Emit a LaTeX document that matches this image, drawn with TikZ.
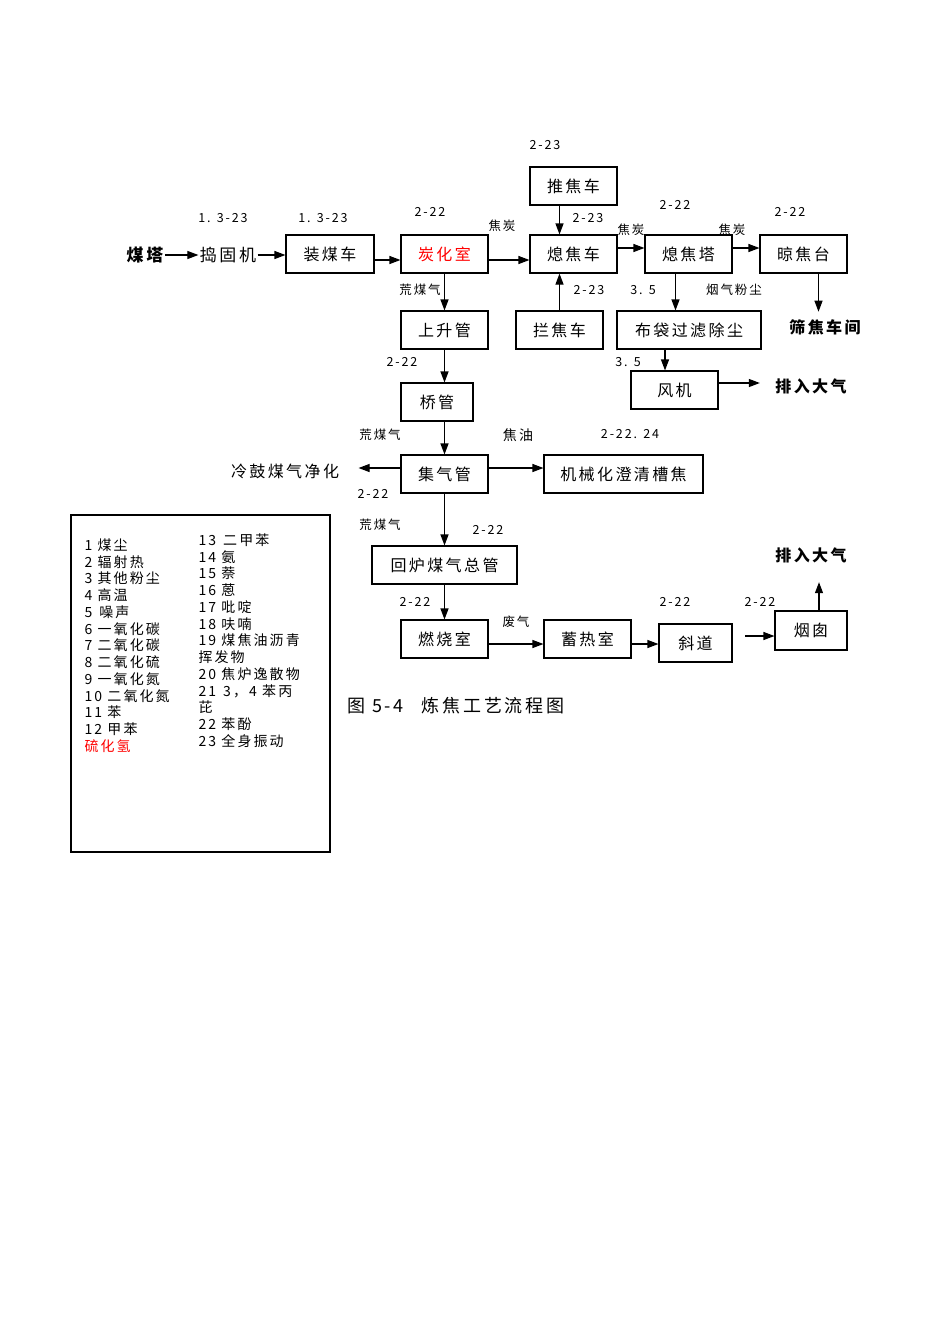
\documentclass[tikz,border=0pt]{standalone}
\usepackage{fontspec}
\setmainfont[LetterSpace=15]{Noto Sans CJK SC}
\usetikzlibrary{arrows.meta}

\begin{document}
\begin{tikzpicture}[x=1pt, y=-1pt, >={Triangle[length=11pt,width=8pt]}, line width=1.1pt,
	box/.style={draw, minimum height=38pt, inner sep=0pt, font=\fontsize{16}{18}\selectfont},
	txt/.style={inner sep=1pt, font=\fontsize{16}{18}\selectfont},
	bold/.style={inner sep=1pt, font=\bfseries\fontsize{16}{18}\selectfont},
	lbl/.style={inner sep=0pt, font=\fontsize{12.5}{14}\selectfont},
	legcol/.style={anchor=north west, inner sep=0pt, align=left, font=\fontsize{14}{16.75}\selectfont}]
	\useasboundingbox (0,0) rectangle (950,1344);
	% top row
	\node[bold, font=\bfseries\fontsize{17}{19}\selectfont] (mt) at (145,255) {煤塔};
	\node[txt, font=\fontsize{17}{19}\selectfont] (dg) at (228,255) {捣固机};
	\node[box, minimum width=88pt] (zmc) at (330,254) {装煤车};
	\node[box, minimum width=87pt, text=red] (thsh) at (444.5,254) {炭化室};
	\node[box, minimum width=87pt] (tjc) at (573.5,186) {推焦车};
	\node[box, minimum width=87pt] (xjc) at (573.5,254) {熄焦车};
	\node[box, minimum width=87pt] (ljc) at (559.5,330) {拦焦车};
	\node[box, minimum width=87pt] (xjt) at (688.5,254) {熄焦塔};
	\node[box, minimum width=87pt] (ljt) at (803.5,254) {晾焦台};
	\node[bold] (sjcj) at (825,327) {筛焦车间};
	% dust branch
	\node[box, minimum width=144pt] (bdcc) at (689,330) {布袋过滤除尘};
	\node[box, minimum width=87pt] (fj) at (674.5,390) {风机};
	\node[bold] (pq1) at (811,386) {排入大气};
	% gas line
	\node[box, minimum width=87pt] (ssg) at (444.5,330) {上升管};
	\node[box, minimum width=72pt] (qg) at (437,402) {桥管};
	\node[box, minimum width=87pt] (jqg) at (444.5,474) {集气管};
	\node[txt] (lgjh) at (285,471) {冷鼓煤气净化};
	\node[box, minimum width=159pt] (jxh) at (623.5,474) {机械化澄清槽焦};
	\node[box, minimum width=145pt] (hlzg) at (444.5,565) {回炉煤气总管};
	% bottom row
	\node[box, minimum width=87pt] (rsh) at (444.5,639) {燃烧室};
	\node[box, minimum width=87pt] (xrs) at (587.5,639) {蓄热室};
	\node[box, minimum width=73pt] (xd) at (695.5,643) {斜道};
	\node[box, minimum width=72pt, minimum height=39pt] (yc) at (811,630.5) {烟囱};
	\node[bold] (pq2) at (811,555) {排入大气};
	\coordinate (ycin) at (745,636);

	% connectors
	\draw[->] (mt) -- (dg);
	\draw[->] (dg.east) -- (dg.east -| zmc.west);
	\draw[->] ([yshift=-6pt]zmc.east) -- ([yshift=-6pt]thsh.west);
	\draw[->] ([yshift=-6pt]thsh.east) -- ([yshift=-6pt]xjc.west);
	\draw[->] ([xshift=-14pt]tjc.south) -- ([xshift=-14pt]xjc.north);
	\draw[->] (ljc.north) -- (ljc.north |- xjc.south);
	\draw[->] ([yshift=6pt]xjc.east) -- ([yshift=6pt]xjt.west);
	\draw[->] ([yshift=6pt]xjt.east) -- ([yshift=6pt]ljt.west);
	\draw[->] ([xshift=15pt]ljt.south) -- ([xshift=15pt,yshift=6pt]ljt.south |- sjcj.north);
	\draw[->] ([xshift=-13pt]xjt.south) -- ([xshift=-13pt]xjt.south |- bdcc.north);
	\draw[->] ([xshift=-24pt]bdcc.south) -- ([xshift=-24pt]bdcc.south |- fj.north);
	\draw[->, shorten >=14pt] ([yshift=7pt]fj.east) -- ([yshift=7pt]fj.east -| pq1.west);
	\draw[->] (thsh.south) -- (ssg.north);
	\draw[->] (ssg.south) -- (ssg.south |- qg.north);
	\draw[->] (ssg.south |- qg.south) -- (jqg.north);
	\draw[->, shorten >=18pt] ([yshift=6pt]jqg.west) -- ([yshift=6pt]jqg.west -| lgjh.east);
	\draw[->] ([yshift=6pt]jqg.east) -- ([yshift=6pt]jqg.east -| jxh.west);
	\draw[->] (jqg.south) -- (hlzg.north);
	\draw[->] (hlzg.south) -- (rsh.north);
	\draw[->] ([yshift=-5pt]rsh.east) -- ([yshift=-5pt]xrs.west);
	\draw[->] ([yshift=-5pt]xrs.east) -- ([yshift=-5pt]xrs.east -| xd.west);
	\draw[->] (ycin) -- (ycin -| yc.west);
	\draw[->, shorten >=18pt] ([xshift=8pt]yc.north) -- ([xshift=8pt]yc.north |- pq2.south);

	% labels
	\node[lbl] (l1) at (223,218) {1. 3-23};
	\node[lbl] (l2) at (323,218) {1. 3-23};
	\node[lbl] (l3) at (430,212) {2-22};
	\node[lbl] (l4) at (502,226) {焦炭};
	\node[lbl] (l5) at (545,145) {2-23};
	\node[lbl] (l6) at (588,218) {2-23};
	\node[lbl] (l7) at (589,290) {2-23};
	\node[lbl] (l8) at (631,230) {焦炭};
	\node[lbl] (l9) at (675,205) {2-22};
	\node[lbl] (l10) at (732,230) {焦炭};
	\node[lbl] (l11) at (790,212) {2-22};
	\node[lbl] (l12) at (643,290) {3. 5};
	\node[lbl] (l13) at (734,290) {烟气粉尘};
	\node[lbl] (l14) at (628,362) {3. 5};
	\node[lbl] (l15) at (420,290) {荒煤气};
	\node[lbl] (l16) at (402,362) {2-22};
	\node[lbl] (l17) at (380,435) {荒煤气};
	\node[lbl, font=\fontsize{14}{16}\selectfont] (l18) at (518,435) {焦油};
	\node[lbl] (l19) at (630,434) {2-22. 24};
	\node[lbl] (l20) at (373,494) {2-22};
	\node[lbl] (l21) at (380,525) {荒煤气};
	\node[lbl] (l22) at (488,530) {2-22};
	\node[lbl] (l23) at (415,602) {2-22};
	\node[lbl] (l24) at (516,622) {废气};
	\node[lbl] (l25) at (675,602) {2-22};
	\node[lbl] (l26) at (760,602) {2-22};
	% caption
	\node[anchor=west, inner sep=0pt, font=\fontsize{18}{20}\selectfont] (cap) at (347,706) {图 5-4\quad 炼焦工艺流程图};
	% legend
	\node[draw, minimum width=259pt, minimum height=337pt, inner sep=0pt] (legend) at (200.5,683.5) {};
	\node[legcol] (leg1) at (84,538) {1 煤尘\\2 辐射热\\3 其他粉尘\\4 高温\\5\enspace 噪声\\6 一氧化碳\\7 二氧化碳\\8 二氧化硫\\9 一氧化氮\\10 二氧化氮\\11 苯\\12 甲苯\\\textcolor{red}{硫化氢}};
	\node[legcol] (leg2) at (198,533) {13\enspace 二甲苯\\14 氨\\15 萘\\16 蒽\\17 吡啶\\18 呋喃\\19 煤焦油沥青\\挥发物\\20 焦炉逸散物\\21\enspace 3，4 苯丙\\芘\\22 苯酚\\23 全身振动};
\end{tikzpicture}
\end{document}
